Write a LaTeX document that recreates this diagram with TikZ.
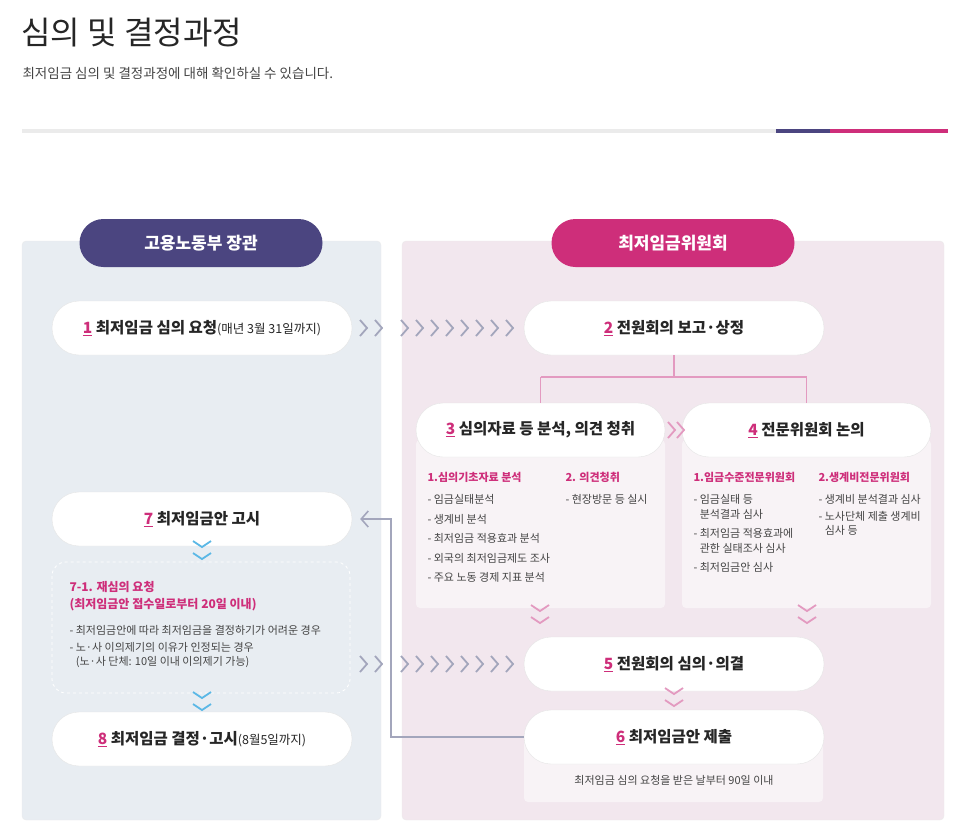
\documentclass[tikz,border=0pt]{standalone}
\usepackage{fontspec}
\setmainfont{Noto Sans CJK KR}
\usetikzlibrary{arrows.meta, positioning, calc}
\definecolor{kpink}{HTML}{CE2E7A}
\definecolor{knavy}{HTML}{4B4580}
\definecolor{kgray}{HTML}{A3A6BC}
\definecolor{kline}{HTML}{E39AC0}
\definecolor{kblue}{HTML}{5BB8E6}
\definecolor{ktext}{HTML}{444444}
\definecolor{leftbg}{HTML}{E8EDF2}
\definecolor{rightbg}{HTML}{F2E7EE}
\definecolor{subbg}{HTML}{F8F3F6}
\newcommand{\num}[1]{\textcolor{kpink}{\underline{#1}}}
\newcommand{\chev}[3]{\draw[#3, line width=1.8pt] ($(#1,#2)+(-7,-8)$) -- (#1,#2) -- ($(#1,#2)+(-7,8)$);}
\newcommand{\dchev}[3]{\foreach \dy in {-6,6} \draw[#3, line width=1.8pt] ($(#1,#2+\dy)+(-9,-6)$) -- (#1,#2+\dy) -- ($(#1,#2+\dy)+(9,-6)$);}
\begin{document}
\begin{tikzpicture}[x=1pt, y=-1pt,
  every node/.style={font=\fontsize{13}{15}\selectfont, text=ktext},
  pill/.style={rectangle, rounded corners=27pt, fill=white, draw=black!10, minimum width=300pt, minimum height=54pt, font=\fontsize{15.5}{18}\selectfont\bfseries, text=black!85},
  head/.style={rectangle, rounded corners=24pt, fill=#1, minimum width=243pt, minimum height=48pt, font=\fontsize{17}{20}\selectfont\bfseries, text=white},
  subhead/.style={anchor=north west, font=\fontsize{11}{15}\selectfont\bfseries, text=kpink, align=left},
  item/.style={anchor=north west, font=\fontsize{11}{14.5}\selectfont, text=ktext, align=left},
]
\useasboundingbox (0,0) rectangle (974,836);

% Title
\node[anchor=west, font=\fontsize{32}{36}\selectfont, text=black!85] (title) at (18,33) {심의 및 결정과정};
\node[anchor=west, font=\fontsize{13.5}{15}\selectfont, text=ktext] (subtitle) at (19,73) {최저임금 심의 및 결정과정에 대해 확인하실 수 있습니다.};
\fill[black!8] (22,129) rectangle (948,133);
\fill[knavy] (776,129) rectangle (830,133);
\fill[kpink] (830,129) rectangle (948,133);

% Panels
\fill[leftbg, draw=black!8] (22,241) [rounded corners=4pt] rectangle (381,820);
\fill[rightbg, draw=black!8] (402,241) [rounded corners=4pt] rectangle (944,820);
\node[head=knavy] (hl) at (201,243) {고용노동부 장관};
\node[head=kpink] (hr) at (673,243) {최저임금위원회};

% Steps
\node[pill] (s1) at (202,328) {\num{1} 최저임금 심의 요청{\fontsize{12.5}{14}\selectfont\mdseries(매년 3월 31일까지)}};
\node[pill] (s2) at (674,328) {\num{2} 전원회의 보고·상정};
\fill[subbg] (416,440) [rounded corners=4pt] rectangle (665,608);
\fill[subbg] (682,440) [rounded corners=4pt] rectangle (931,608);
\node[pill, minimum width=249pt] (s3) at (540.5,430) {\num{3} 심의자료 등 분석, 의견 청취};
\node[pill, minimum width=249pt] (s4) at (806.5,430) {\num{4} 전문위원회 논의};
\node[pill] (s5) at (674,664) {\num{5} 전원회의 심의·의결};
\fill[subbg] (524,740) [rounded corners=4pt] rectangle (823,802);
\node[pill] (s6) at (674,737) {\num{6} 최저임금안 제출};
\node[item, anchor=center] (s6note) at (674,780) {최저임금 심의 요청을 받은 날부터 90일 이내};
\node[pill] (s7) at (202,519) {\num{7} 최저임금안 고시};
\node[pill] (s8) at (202,739) {\num{8} 최저임금 결정·고시{\fontsize{12.5}{14}\selectfont\mdseries(8월5일까지)}};

% Details of 3 and 4
\node[subhead] (d31) at (424,469) {1.심의기초자료 분석};
\node[item] (d31i) at (424,491) {- 임금실태분석\\[5pt]- 생계비 분석\\[5pt]- 최저임금 적용효과 분석\\[5pt]- 외국의 최저임금제도 조사\\[5pt]- 주요 노동 경제 지표 분석};
\node[subhead] (d32) at (562,469) {2. 의견청취};
\node[item] (d32i) at (562,491) {- 현장방문 등 실시};
\node[subhead] (d41) at (690,469) {1.임금수준전문위원회};
\node[item] (d41i) at (690,491) {- 임금실태 등\\\phantom{- }분석결과 심사\\[5pt]- 최저임금 적용효과에\\\phantom{- }관한 실태조사 심사\\[5pt]- 최저임금안 심사};
\node[subhead] (d42) at (815,469) {2.생계비전문위원회};
\node[item] (d42i) at (815,491) {- 생계비 분석결과 심사\\[2pt]- 노사단체 제출 생계비\\\phantom{- }심사 등};

% Re-deliberation box
\draw[white, dashed, line width=0.8pt, rounded corners=14pt] (52,562) rectangle (350,693);
\node[subhead, font=\fontsize{12}{17}\selectfont\bfseries] (r1) at (66,578) {7-1. 재심의 요청\\(최저임금안 접수일로부터 20일 이내)};
\node[item] (r1i) at (66,622) {- 최저임금안에 따라 최저임금을 결정하기가 어려운 경우\\[2pt]- 노·사 이의제기의 이유가 인정되는 경우\\\phantom{- }(노·사 단체: 10일 이내 이의제기 가능)};

% Connectors
\coordinate (split) at (674,377);
\draw[kline, line width=1.2pt] (s2.south) -- (split);
\draw[kline, line width=1.2pt] (s3.north |- split) -- (s4.north |- split);
\draw[kline, line width=1.2pt] (s3.north |- split) -- (s3.north);
\draw[kline, line width=1.2pt] (s4.north |- split) -- (s4.north);
\coordinate (bend1) at (391,737);
\coordinate (bend2) at (391,519);
\draw[kgray, line width=1.6pt, -{Straight Barb[length=7pt, width=16pt]}] (s6.west) -- (bend1) -- (bend2) -- ($(s7.east)+(8,0)$);

% Chevrons
\foreach \x in {367,382,408,423,438,453,468,483,498,513} {\chev{\x}{328}{kgray} \chev{\x}{664}{kgray}}
\chev{675}{430}{kline} \chev{684}{430}{kline}
\dchev{540}{617}{kline} \dchev{807}{617}{kline}
\dchev{674}{700}{kline}
\dchev{202}{553}{kblue} \dchev{202}{704}{kblue}
\end{tikzpicture}
\end{document}
